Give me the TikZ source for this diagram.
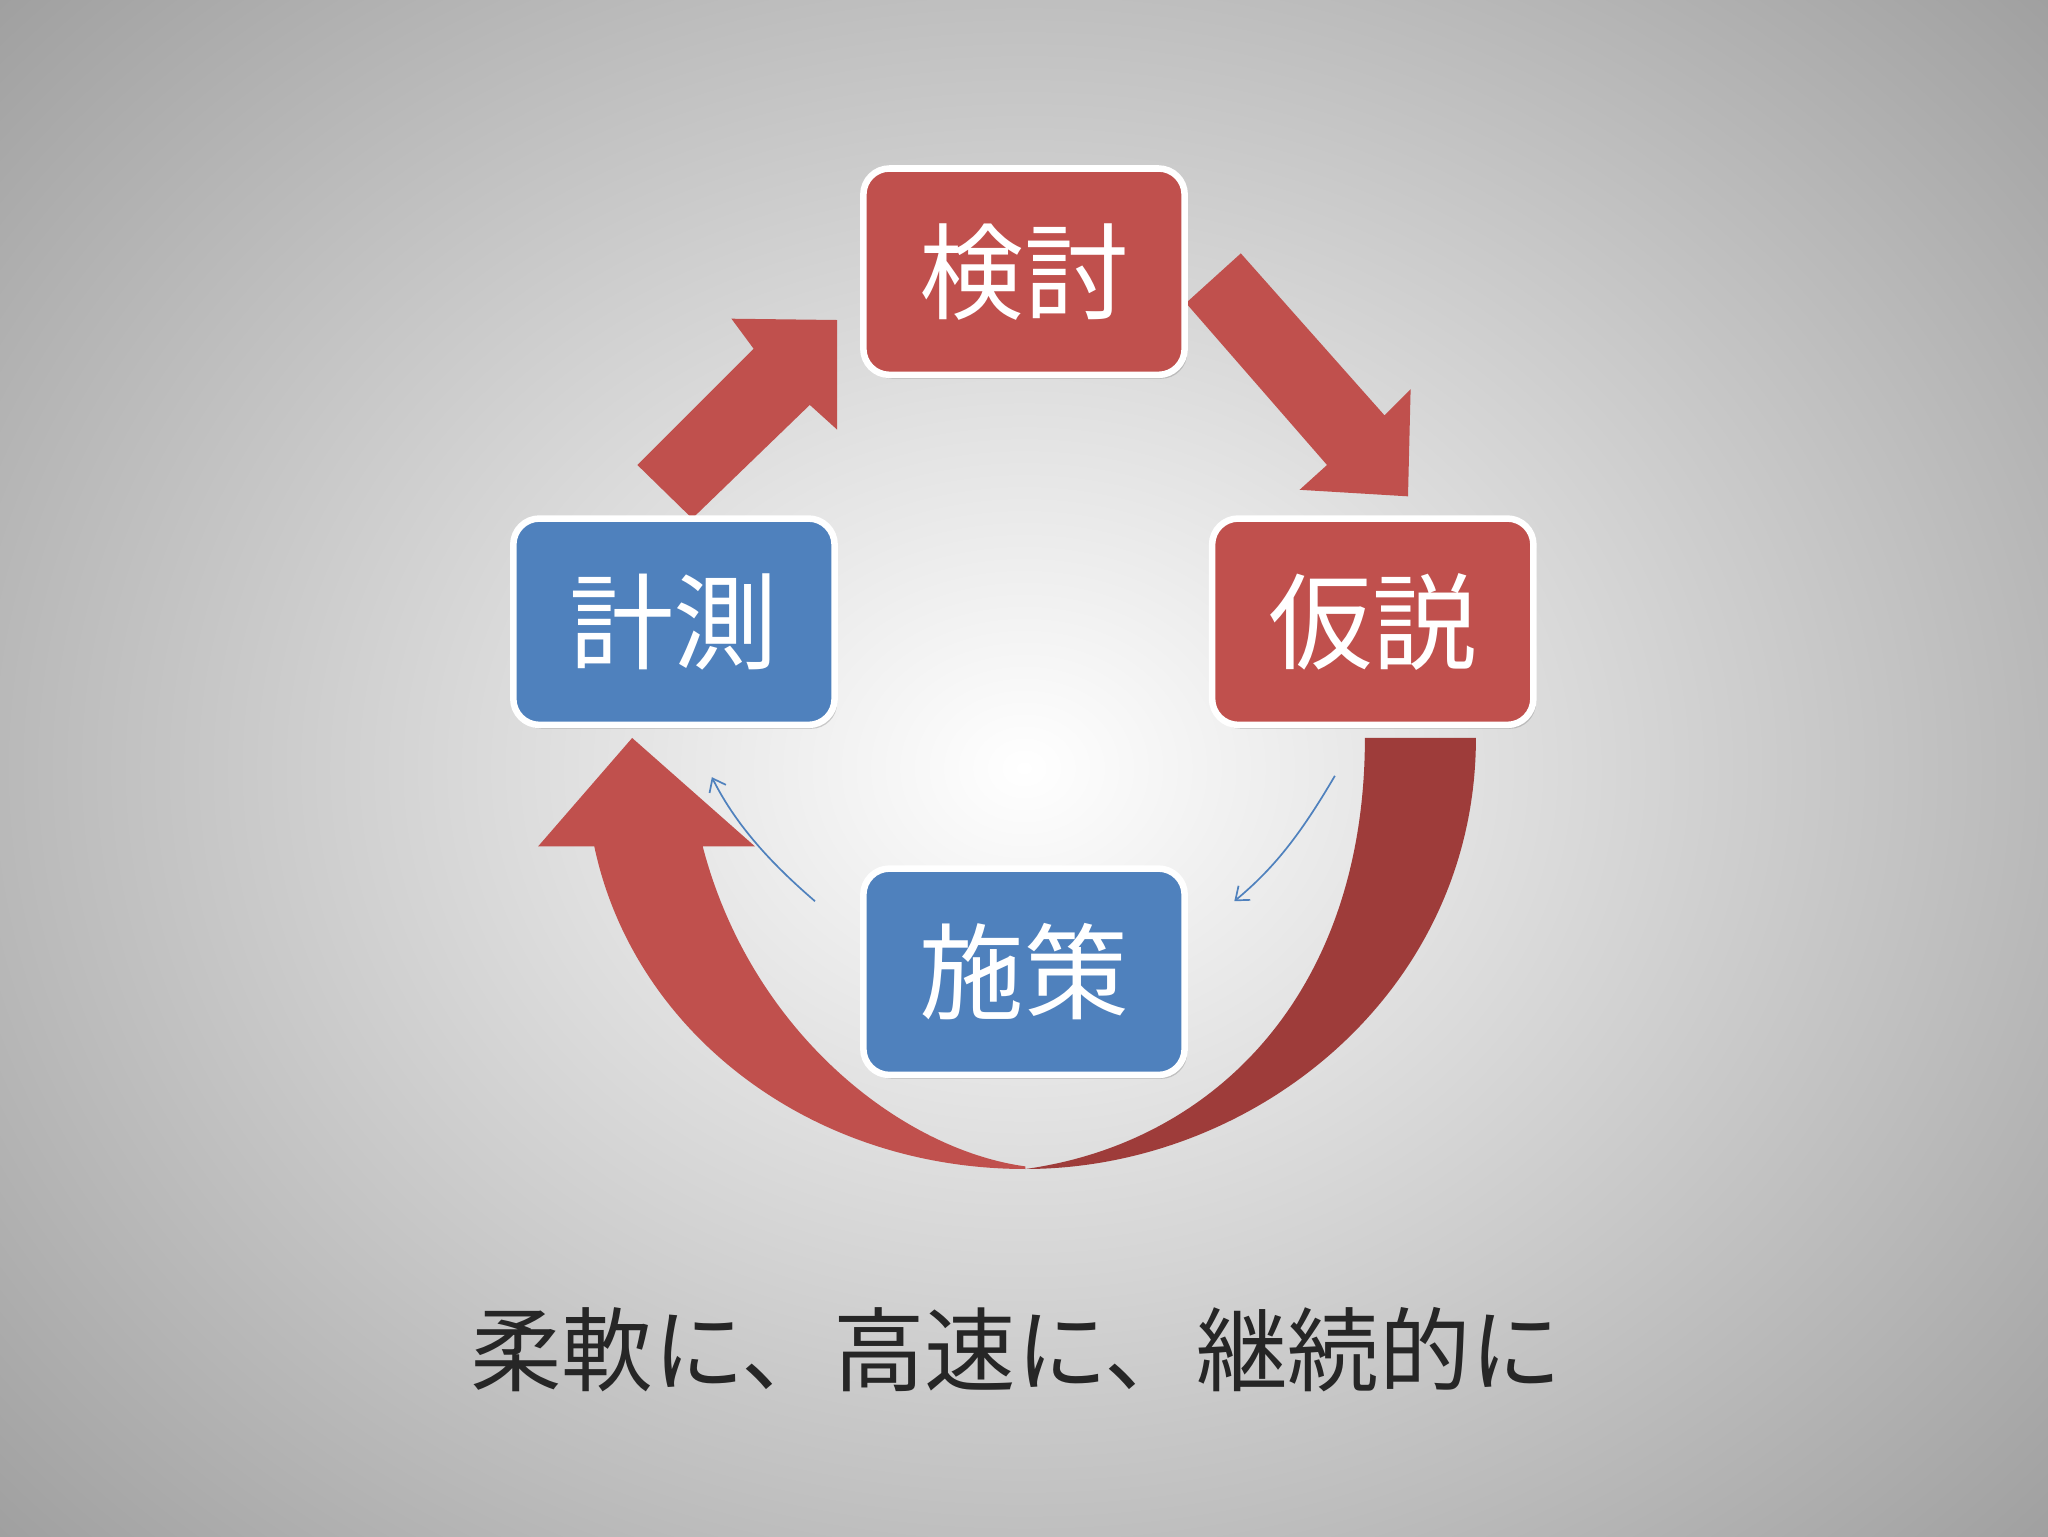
\documentclass[tikz,border=0pt]{standalone}
\usepackage{fontspec}
\newfontfamily\cjk{Noto Sans CJK JP}
\usetikzlibrary{shadows,arrows.meta}
\definecolor{rd}{HTML}{C0504D}
\definecolor{drd}{HTML}{9E3C3A}
\definecolor{bl}{HTML}{4F81BD}
\tikzset{
 box/.style={draw=white,line width=5pt,rounded corners=20pt,minimum width=246pt,minimum height=158pt,
   text=white,font=\cjk\fontsize{80}{80}\selectfont,drop shadow={opacity=0.35,shadow xshift=2pt,shadow yshift=-3pt}},
 thin/.style={bl,line width=1.3pt,-{Straight Barb[length=9pt,width=14pt]}}
}
\begin{document}
\begin{tikzpicture}[x=1pt,y=-1pt]
\useasboundingbox (0,0) rectangle (1568,1176);
\shade[inner color=white,outer color=black!38] (-300,-300) rectangle (1868,1476);
% arrows
\fill[rd] (488,356)--(577,267)--(560,244)--(641,245)--(641,329)--(620,310)--(530,397)--cycle;
\fill[rd] (908,232)--(950,194)--(1060,318)--(1080,298)--(1078,380)--(995,375)--(1016,356)--cycle;
\fill[drd] (1045,565)--(1130,565) .. controls (1130,760) and (960,895) .. (785,895) .. controls (930,875) and (1045,760) .. (1045,565)--cycle;
\fill[rd] (785,895) .. controls (620,895) and (485,790) .. (455,648) -- (412,648) -- (484,565) -- (578,648) -- (538,648) .. controls (575,790) and (690,880) .. (785,893)--cycle;
% boxes
\node[box,fill=rd] (kt) at (784,208) {検討};
\node[box,fill=rd] (ks) at (1051,476) {仮説};
\node[box,fill=bl] (ks2) at (516,476) {計測};
\node[box,fill=bl] (ss) at (784,744) {施策};
\coordinate (a1) at (1022,594); \coordinate (a2) at (945,690);
\coordinate (b1) at (624,690); \coordinate (b2) at (545,595);
\draw[thin] (a1) .. controls (995,640) and (975,665) .. (a2);
\draw[thin] (b1) .. controls (595,665) and (565,635) .. (b2);
\node[font=\cjk\fontsize{70}{70}\selectfont,text=black!85] (t) at (778,1033) {柔軟に、高速に、継続的に};
\end{tikzpicture}
\end{document}
